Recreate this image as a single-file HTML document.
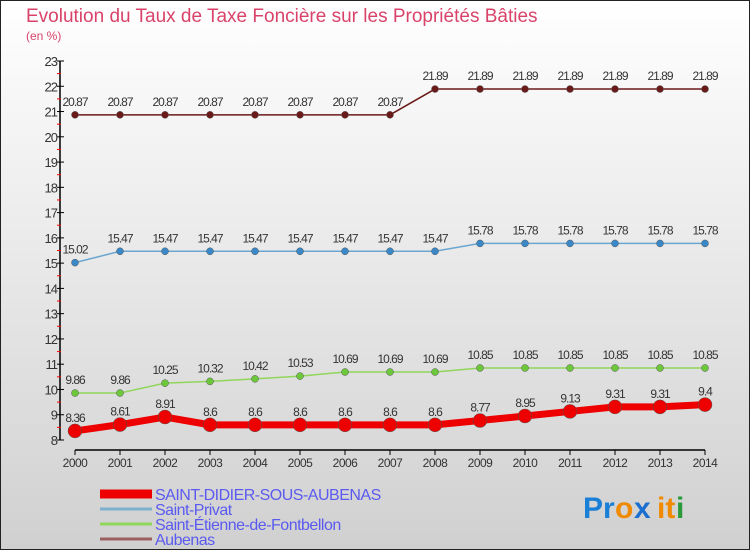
<!DOCTYPE html>
<html><head><meta charset="utf-8"><style>
body{margin:0;width:750px;height:550px;overflow:hidden;font-family:"Liberation Sans",sans-serif}
svg text{font-family:"Liberation Sans",sans-serif}
</style></head><body>
<svg id="c" width="750" height="550" xmlns="http://www.w3.org/2000/svg">
<defs><linearGradient id="bg" x1="0" y1="0" x2="0" y2="1"><stop offset="0" stop-color="#ffffff"/><stop offset="1" stop-color="#d0d0d0"/></linearGradient></defs>
<rect x="0.5" y="0.5" width="749" height="549" fill="url(#bg)" stroke="#222"/>
<text x="26" y="22" font-size="19" fill="#d9436a">Evolution du Taux de Taxe Foncière sur les Propriétés Bâties</text>
<text x="26" y="40" font-size="12" fill="#d9436a">(en %)</text>
<g id="axes"></g><g id="series"></g><g id="legend"></g>
<g font-size="30" font-weight="bold">
<text x="583" y="518" fill="#1a7fd6">Pr</text><text x="615" y="518" fill="#f08a00">o</text><text x="634" y="518" fill="#1a6fd0">x</text><text x="657" y="518" fill="#f08a00">it</text><text x="676" y="518" fill="#2a9a3a">i</text>
</g>
</svg>
<script>
const years=[2000,2001,2002,2003,2004,2005,2006,2007,2008,2009,2010,2011,2012,2013,2014];
const yTicks=[8,9,10,11,12,13,14,15,16,17,18,19,20,21,22,23];
const saintDidier=[8.36,8.61,8.91,8.6,8.6,8.6,8.6,8.6,8.6,8.77,8.95,9.13,9.31,9.31,9.4];
const saintPrivat=[15.02,15.47,15.47,15.47,15.47,15.47,15.47,15.47,15.47,15.78,15.78,15.78,15.78,15.78,15.78];
const saintEtienne=[9.86,9.86,10.25,10.32,10.42,10.53,10.69,10.69,10.69,10.85,10.85,10.85,10.85,10.85,10.85];
const aubenas=[20.87,20.87,20.87,20.87,20.87,20.87,20.87,20.87,21.89,21.89,21.89,21.89,21.89,21.89,21.89];
const names=["SAINT-DIDIER-SOUS-AUBENAS","Saint-Privat","Saint-Étienne-de-Fontbellon","Aubenas"];
const NS="http://www.w3.org/2000/svg";
const X=i=>75+i*45, Y=v=>440-(v-8)*(379/15);
function mk(p,t,a){const e=document.createElementNS(NS,t);for(const k in a)e.setAttribute(k,a[k]);p.appendChild(e);return e;}
const ax=document.getElementById('axes');
let l=mk(ax,'line',{x1:60,y1:Y(23),x2:60,y2:440,stroke:'#000','stroke-width':1.5});


l=mk(ax,'line',{x1:X(0),y1:450,x2:X(14),y2:450,stroke:'#000','stroke-width':1.5});


yTicks.forEach(v=>{mk(ax,'line',{x1:57,y1:Y(v),x2:64,y2:Y(v),stroke:'#000'});
 if(v<23)mk(ax,'line',{x1:57,y1:Y(v+0.5),x2:61,y2:Y(v+0.5),stroke:'#f00'});
 const t=mk(ax,'text',{x:57,y:Y(v)+5,'font-size':13,'text-anchor':'end',fill:'#333','letter-spacing':'-1'});t.textContent=v;
 
 });
years.forEach((y,i)=>{mk(ax,'line',{x1:X(i),y1:450,x2:X(i),y2:455,stroke:'#000'});
 const t=mk(ax,'text',{x:X(i),y:467,'font-size':12,'text-anchor':'middle',fill:'#333','letter-spacing':'-0.5'});t.textContent=y;
 
 });
const sg=document.getElementById('series');
const defs=[[aubenas,'#6b1a1a','#6b1a1a',1.5,3.5,'aubenas'],[saintPrivat,'#6aa6d0','#3a88c8',1.5,3.5,'saint-privat'],[saintEtienne,'#8fd65a','#6cc83a',1.5,3.5,'saint-etienne'],[saintDidier,'#ee0000','#ee0000',7,7,'saint-didier']];
defs.forEach(([d,c,mc,w,r,n])=>{
 const p=mk(sg,'polyline',{points:d.map((v,i)=>X(i)+','+Y(v)).join(' '),fill:'none',stroke:c,'stroke-width':w});
 
 
 d.forEach((v,i)=>{const m=mk(sg,'circle',{cx:X(i),cy:Y(v),r:r,fill:mc,stroke:'#555','stroke-width':0.5});
  
  
  const t=mk(sg,'text',{x:X(i),y:Y(v)-9,'font-size':12,'text-anchor':'middle',fill:'#333','letter-spacing':'-1'});t.textContent=v;
  
  });
});
const lg=document.getElementById('legend');
const lc=['#ee0000','#7fb0d0','#8fd65a','#9a6060'],lw=[9,3,3,3];
names.forEach((n,i)=>{const y=494+i*15;
 const g=mk(lg,'g',{});
 
 
 mk(g,'line',{x1:100,y1:y,x2:152,y2:y,stroke:lc[i],'stroke-width':lw[i]});
 const t=mk(g,'text',{x:155,y:y+6,'font-size':16,fill:'#5a5af0','letter-spacing':'-0.5'});t.textContent=n;});
</script>
</body></html>
